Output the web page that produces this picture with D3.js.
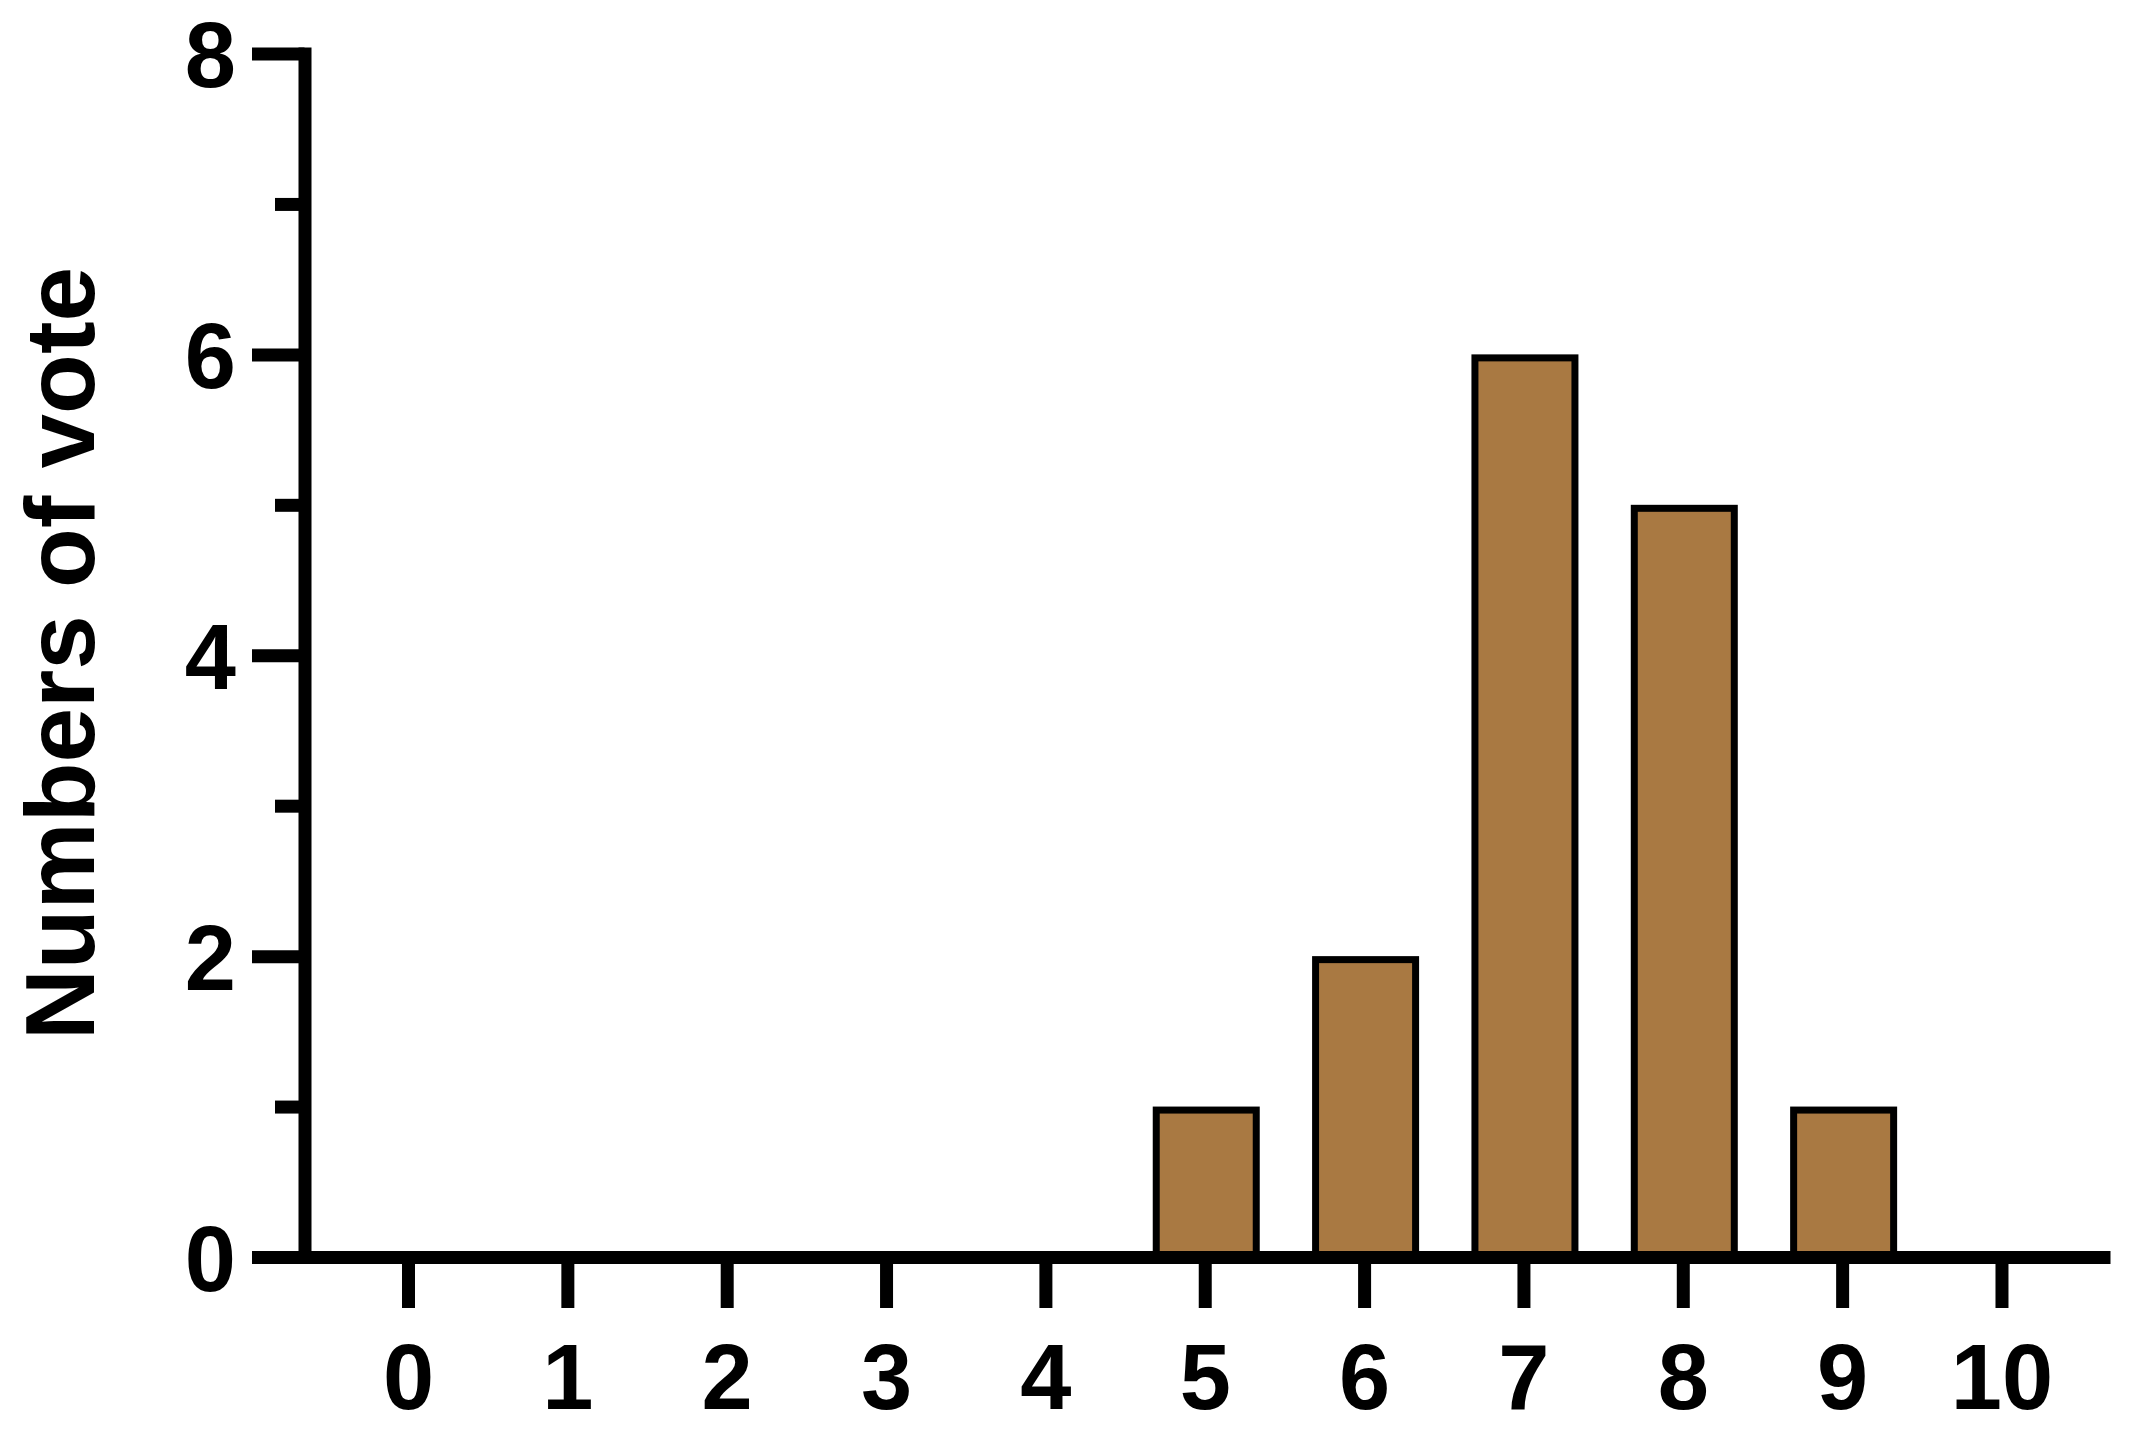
<!DOCTYPE html>
<html>
<head>
<meta charset="utf-8">
<script src="https://cdn.jsdelivr.net/npm/d3@7"></script>
<style>
  body { margin: 0; background: #fff; }
  text { font-family: "Liberation Sans", Arial, sans-serif; font-weight: bold; }
</style>
</head>
<body>
<div class="chart"></div>
<script>
// data
const categories = [0, 1, 2, 3, 4, 5, 6, 7, 8, 9, 10];
const votes = [0, 0, 0, 0, 0, 1, 2, 6, 5, 1, 0];
const majorTicks = [0, 2, 4, 6, 8];
const minorTicks = [1, 3, 5, 7];
const yTitle = "Numbers of vote";

const outerWidth = 2133;
const outerHeight = 1437;
const barColor = "#a97942";
const axisWidth = 13;

const svg = d3.select('.chart').append('svg')
  .attr('width', outerWidth)
  .attr('height', outerHeight);

// x axis line runs 252..2110, category 0 at 408, 10 at 2001.5
const x = d3.scaleLinear()
  .domain([-0.979, 10.681])
  .range([252, 2110]);
const y = d3.scaleLinear()
  .domain([0, 8])
  .range([1257, 53.5]);

const axisX = 304.5;
const barWidth = 100;
const barStroke = 7;

// bars first so the axis line covers their bottoms
svg.append('g')
  .selectAll('rect')
  .data(categories.map((c, i) => ({c: c, v: votes[i]})).filter(d => d.v > 0))
  .join('rect')
  .attr('x', d => x(d.c) - barWidth / 2 + 1.5)
  .attr('y', d => y(d.v) + barStroke / 2)
  .attr('width', barWidth)
  .attr('height', d => y(0) - y(d.v))
  .attr('fill', barColor)
  .attr('stroke', '#000')
  .attr('stroke-width', barStroke);

// x axis
const gx = svg.append('g')
  .attr('transform', `translate(0,${y(0)})`)
  .call(d3.axisBottom(x).tickValues(categories).tickSize(51).tickSizeOuter(0).tickFormat(d3.format('d')));
gx.select('.domain').attr('stroke-width', axisWidth);
gx.selectAll('.tick line').attr('stroke-width', axisWidth);
gx.selectAll('.tick text')
  .attr('y', 152)
  .attr('dy', 0)
  .attr('font-size', 92)
  .attr('fill', '#000');

// y axis, minor ticks
const gyMinor = svg.append('g')
  .attr('transform', `translate(${axisX},0)`)
  .call(d3.axisLeft(y).tickValues(minorTicks).tickSize(29.5).tickFormat(''));
gyMinor.select('.domain').remove();
gyMinor.selectAll('.tick line').attr('stroke-width', axisWidth);

// y axis, major ticks
const gy = svg.append('g')
  .attr('transform', `translate(${axisX},0)`)
  .call(d3.axisLeft(y).tickValues(majorTicks).tickSize(52.5).tickSizeOuter(0));
gy.select('.domain')
  .attr('stroke-width', axisWidth)
  .attr('stroke-linecap', 'square');
gy.selectAll('.tick line').attr('stroke-width', axisWidth);
gy.selectAll('.tick text')
  .attr('x', -68.5)
  .attr('dy', '0.36em')
  .attr('font-size', 92)
  .attr('fill', '#000');

svg.append('text')
  .attr('transform', 'translate(94,653.5) rotate(-90)')
  .attr('text-anchor', 'middle')
  .attr('font-size', 98)
  .text(yTitle);
</script>
</body>
</html>
